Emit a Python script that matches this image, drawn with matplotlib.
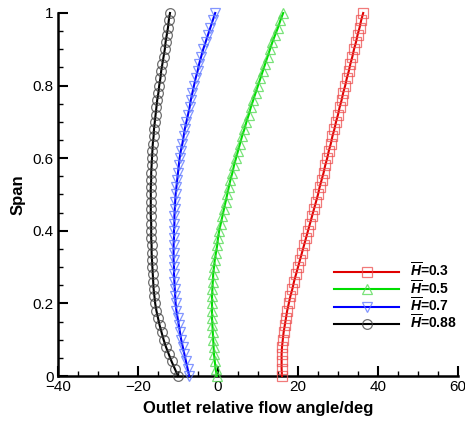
import numpy as np
import matplotlib
matplotlib.use("Agg")
import matplotlib.pyplot as plt
from matplotlib.ticker import MultipleLocator

plt.rcParams['font.family'] = ['Liberation Sans', 'DejaVu Sans']
plt.rcParams['mathtext.fontset'] = 'custom'
plt.rcParams['mathtext.it'] = 'Liberation Sans:italic:bold'
plt.rcParams['mathtext.rm'] = 'Liberation Sans:bold'

span = [0.00, 0.02, 0.04, 0.06, 0.08, 0.10, 0.12, 0.14, 0.16, 0.18,
        0.20, 0.22, 0.24, 0.26, 0.28, 0.30, 0.32, 0.34, 0.36, 0.38,
        0.40, 0.42, 0.44, 0.46, 0.48, 0.50, 0.52, 0.54, 0.56, 0.58,
        0.60, 0.62, 0.64, 0.66, 0.68, 0.70, 0.72, 0.74, 0.76, 0.78,
        0.80, 0.82, 0.84, 0.86, 0.88, 0.90, 0.92, 0.94, 0.96, 0.98, 1.00]

angle_h03 = [16.0, 15.9, 15.9, 15.9, 16.0, 16.2, 16.4, 16.7, 17.0, 17.3,
             17.7, 18.1, 18.6, 19.0, 19.5, 20.0, 20.5, 21.0, 21.5, 22.0,
             22.5, 23.0, 23.5, 24.0, 24.5, 25.0, 25.4, 25.9, 26.4, 26.8,
             27.3, 27.7, 28.2, 28.6, 29.1, 29.5, 30.0, 30.4, 30.9, 31.3,
             31.8, 32.2, 32.7, 33.1, 33.6, 34.0, 34.5, 34.9, 35.4, 35.8, 36.3]

angle_h05 = [-0.3, -0.6, -0.8, -1.0, -1.1, -1.2, -1.3, -1.4, -1.5, -1.5,
             -1.5, -1.5, -1.4, -1.3, -1.2, -1.0, -0.8, -0.5, -0.2, 0.0,
             0.3, 0.7, 1.1, 1.5, 1.9, 2.3, 2.7, 3.1, 3.6, 4.0,
             4.5, 5.0, 5.5, 6.0, 6.6, 7.1, 7.7, 8.2, 8.8, 9.4,
             10.0, 10.6, 11.2, 11.8, 12.4, 13.0, 13.6, 14.3, 15.0, 15.6, 16.3]

angle_h07 = [-7.2, -7.6, -8.0, -8.4, -8.8, -9.2, -9.5, -9.8, -10.1, -10.4,
             -10.6, -10.7, -10.8, -10.9, -11.0, -11.0, -11.1, -11.1, -11.1, -11.0,
             -11.0, -10.9, -10.9, -10.8, -10.7, -10.6, -10.4, -10.2, -10.0, -9.8,
             -9.6, -9.3, -8.9, -8.6, -8.3, -7.9, -7.5, -7.1, -6.8, -6.4,
             -6.0, -5.6, -5.1, -4.7, -4.2, -3.7, -3.1, -2.5, -1.9, -1.3, -0.7]

angle_h088 = [-10.0, -10.8, -11.6, -12.3, -13.0, -13.6, -14.1, -14.6, -15.0, -15.4,
              -15.7, -15.9, -16.1, -16.2, -16.3, -16.4, -16.5, -16.6, -16.6, -16.7,
              -16.7, -16.7, -16.8, -16.8, -16.8, -16.8, -16.8, -16.7, -16.7, -16.6,
              -16.5, -16.4, -16.3, -16.1, -16.0, -15.8, -15.6, -15.4, -15.2, -14.9,
              -14.7, -14.4, -14.2, -13.9, -13.6, -13.3, -13.1, -12.8, -12.5, -12.3, -12.0]

labels = [r'$\overline{H}$=0.3', r'$\overline{H}$=0.5', r'$\overline{H}$=0.7', r'$\overline{H}$=0.88']
x_ticks = [-40, -20, 0, 20, 40, 60]
x_ticklabels = ['\u221240', '\u221220', '0', '20', '40', '60']
y_ticks = [0, 0.2, 0.4, 0.6, 0.8, 1]
y_ticklabels = ['0', '0.2', '0.4', '0.6', '0.8', '1']

series = [angle_h03, angle_h05, angle_h07, angle_h088]
colors = ['#e00000', '#00dd00', '#0000ff', '#000000']
mecs = [(0.93, 0.3, 0.3, 0.75), (0.3, 0.85, 0.3, 0.75), (0.35, 0.45, 1.0, 0.75), (0.25, 0.25, 0.25, 0.75)]
markers = ['s', '^', 'v', 'o']

fig = plt.figure(figsize=(4.65, 4.22), dpi=100)
ax = fig.add_axes([58/465, 46/422, 400/465, 363/422])

for vals, c, mec, m, lab in zip(series, colors, mecs, markers, labels):
    ax.plot(vals, span, color=c, lw=1.5, marker=m, ms=7, mfc='none',
            mec=mec, mew=0.9, label=lab, clip_on=False, zorder=3)

ax.set_xlim(-40, 60)
ax.set_ylim(0, 1)
ax.set_xticks(x_ticks)
ax.set_xticklabels(x_ticklabels)
ax.set_yticks(y_ticks)
ax.set_yticklabels(y_ticklabels)
ax.xaxis.set_minor_locator(MultipleLocator(5))
ax.yaxis.set_minor_locator(MultipleLocator(0.05))

for s in ['top', 'right']:
    ax.spines[s].set_visible(False)
for s in ['left', 'bottom']:
    ax.spines[s].set_linewidth(1.8)
ax.tick_params(which='major', direction='in', length=7, width=1.5, labelsize=11, pad=3)
ax.tick_params(which='minor', direction='in', length=3.5, width=1.0)

ax.set_xlabel('Outlet relative flow angle/deg', fontsize=12, fontweight='bold', labelpad=5)
ax.set_ylabel('Span', fontsize=12, fontweight='bold', labelpad=5)

leg = ax.legend(loc='upper left', bbox_to_anchor=(0.69, 0.315), frameon=False,
                numpoints=1, handlelength=4.7, handletextpad=0.8, labelspacing=-0.07,
                prop={'size': 10, 'weight': 'bold'}, borderaxespad=0, borderpad=0)

fig.savefig('out.png', dpi=100)
